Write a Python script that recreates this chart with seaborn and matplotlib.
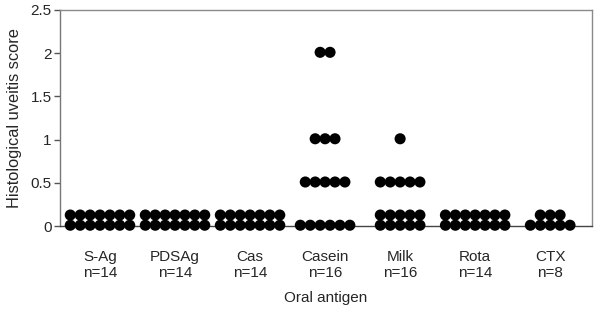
import numpy as np
import pandas as pd
import matplotlib
matplotlib.use("Agg")
import matplotlib.pyplot as plt
import seaborn as sns

# ---- data ----
antigens = ["S-Ag", "PDSAg", "Cas", "Casein", "Milk", "Rota", "CTX"]
n_labels = ["n=14", "n=14", "n=14", "n=16", "n=16", "n=14", "n=8"]
scores_sag = [0] * 14
scores_pdsag = [0] * 14
scores_cas = [0] * 14
scores_casein = [0] * 6 + [0.5] * 5 + [1] * 3 + [2] * 2
scores_milk = [0] * 10 + [0.5] * 5 + [1] * 1
scores_rota = [0] * 14
scores_ctx = [0] * 8
all_scores = [scores_sag, scores_pdsag, scores_cas, scores_casein,
              scores_milk, scores_rota, scores_ctx]
yticks = [0, 0.5, 1, 1.5, 2, 2.5]
ytick_labels = ["0", "0.5", "1", "1.5", "2", "2.5"]

# ---- layout parameters (dot stacking) ----
row_width = [7, 7, 7, 7, 5, 7, 5]   # max dots per row for each group
dx = 0.132                          # horizontal dot spacing (category units)
dy = 0.118                          # vertical stacking step (score units)

rows = []
for ci, (name, vals) in enumerate(zip(antigens, all_scores)):
    for v in sorted(set(vals)):
        cnt = vals.count(v)
        w = row_width[ci]
        k = 0
        r = 0
        while k < cnt:
            m = min(w, cnt - k)
            offs = np.arange(m) - (m - 1) / 2
            for o in offs:
                rows.append({"x": ci + o * dx, "y": v + r * dy + 0.01, "group": name})
            k += m
            r += 1
df = pd.DataFrame(rows)

sns.set_theme(style="white")
plt.rcParams["font.family"] = ["Liberation Sans", "DejaVu Sans"]

fig = plt.figure(figsize=(6.0, 3.11), dpi=100)
ax = fig.add_axes([0.1, 0.273, 0.887, 0.695])

sns.scatterplot(data=df, x="x", y="y", color="black", s=64, edgecolor="none",
                ax=ax, clip_on=False, legend=False, zorder=3)

ax.set_xlim(-0.533, 6.56)
ax.set_ylim(0, 2.5)
ax.set_yticks(yticks)
ax.set_yticklabels(ytick_labels, fontsize=11)
ax.set_xticks(range(len(antigens)))
ax.set_xticklabels([f"{a}\n{n}" for a, n in zip(antigens, n_labels)], fontsize=11)
ax.tick_params(axis="x", length=0, pad=17)
ax.tick_params(axis="y", length=4, width=1, color="#555555", left=True, pad=2)
ax.set_xlabel("Oral antigen", fontsize=11, labelpad=8)
ax.set_ylabel("Histological uveitis score", fontsize=11.8, labelpad=6)

for side in ["top", "right"]:
    ax.spines[side].set_color("#8a8a8a")
    ax.spines[side].set_linewidth(1)
ax.spines["left"].set_color("#777777")
ax.spines["left"].set_linewidth(1)
ax.spines["bottom"].set_color("#444444")
ax.spines["bottom"].set_linewidth(1)

fig.savefig("out.png", dpi=100)
